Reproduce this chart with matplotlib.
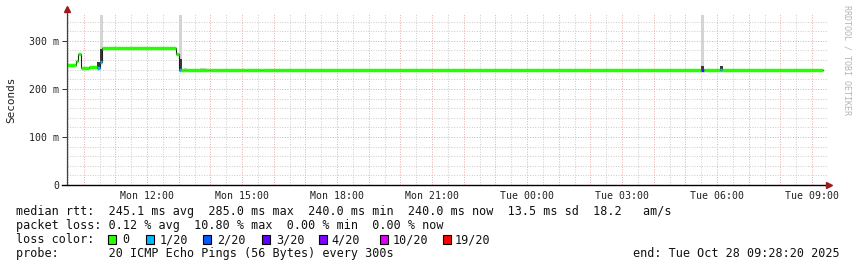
import matplotlib
matplotlib.use("Agg")
import matplotlib.pyplot as plt
import matplotlib.dates as mdates
from matplotlib.patches import Rectangle
import numpy as np
import pandas as pd


# --- data ---
# median rtt steps (start of each 5 min step), ms, lost pings out of 20
med_start = ["2025-10-27 09:25", "2025-10-27 09:45", "2025-10-27 09:50", "2025-10-27 09:55",
             "2025-10-27 10:10", "2025-10-27 10:25", "2025-10-27 10:30", "2025-10-27 10:35",
             "2025-10-27 12:55", "2025-10-27 13:00", "2025-10-27 13:05", "2025-10-27 13:10",
             "2025-10-27 13:15", "2025-10-27 13:55", "2025-10-27 14:00", "2025-10-27 14:15",
             "2025-10-27 15:10", "2025-10-27 15:35", "2025-10-27 15:40", "2025-10-27 16:00",
             "2025-10-27 16:20", "2025-10-28 05:30", "2025-10-28 05:35", "2025-10-28 06:05",
             "2025-10-28 06:10"]
med_ms = [249, 258, 273, 243, 245, 243, 256, 285, 273, 240, 240, 239, 240, 239, 240, 239,
          240, 239, 240, 239, 240, 240, 240, 240, 240]
med_loss = [0, 0, 0, 0, 0, 1, 1, 0, 0, 1, 0, 0, 0, 0, 0, 0, 0, 0, 0, 0, 0, 3, 0, 1, 0]
data_end = "2025-10-28 09:20"

# smoke (spread of the 20 pings), one 5 min bar each
smoke_start = ["2025-10-27 10:25", "2025-10-27 10:30", "2025-10-27 10:30", "2025-10-27 13:00",
               "2025-10-27 13:00", "2025-10-27 13:10", "2025-10-27 13:40", "2025-10-27 13:45",
               "2025-10-28 05:30", "2025-10-28 05:30", "2025-10-28 06:05"]
smoke_lo = [243, 256, 283, 240, 262, 239, 240, 240, 240, 248, 240]
smoke_hi = [255, 283, 354, 262, 354, 243, 243, 243, 248, 354, 248]
smoke_dense = [1, 1, 0, 1, 0, 0, 0, 0, 1, 0, 1]

loss_levels = [0, 1, 2, 3, 4, 10, 19]
loss_labels = ["0", "1/20", "2/20", "3/20", "4/20", "10/20", "19/20"]
loss_colors = ["#26ff00", "#00b8ff", "#0059ff", "#5e00ff", "#7e00ff", "#dd00ff", "#ff0000"]

legend_lines = [
    "median rtt:  245.1 ms avg  285.0 ms max  240.0 ms min  240.0 ms now  13.5 ms sd  18.2   am/s",
    "packet loss: 0.12 % avg  10.80 % max  0.00 % min  0.00 % now",
    "loss color:",
    "probe:       20 ICMP Echo Pings (56 Bytes) every 300s",
]
end_text = "end: Tue Oct 28 09:28:20 2025"

W, H = 857, 267
MONO = "DejaVu Sans Mono"


def fx(px):
    return px / W


def fy(py):
    return 1 - py / H


def loss_color(n):
    c = loss_colors[0]
    for lvl, col in zip(loss_levels, loss_colors):
        if n >= lvl:
            c = col
    return c


def main():
    fig = plt.figure(figsize=(W / 100, H / 100), dpi=100)
    fig.patch.set_facecolor("white")
    ax = fig.add_axes([fx(67), fy(185), 760 / W, 172 / H])

    t0 = mdates.date2num(pd.Timestamp("2025-10-27 09:28:20"))
    t1 = mdates.date2num(pd.Timestamp("2025-10-28 09:28:20"))
    ax.set_xlim(t0, t1)
    ax.set_ylim(0, 0.358)

    # grid: red every hour / 100 ms, grey every half hour / 20 ms
    for t in pd.date_range("2025-10-27 09:30", "2025-10-28 09:28", freq="30min"):
        col = "#e6a8a8" if t.minute == 0 else "#cbcbcb"
        ax.axvline(mdates.date2num(t), color=col, lw=0.7, ls=(0, (1, 1.6)), zorder=0)
    for v in range(20, 358, 20):
        col = "#e6a8a8" if v % 100 == 0 else "#cbcbcb"
        ax.axhline(v / 1000, color=col, lw=0.7, ls=(0, (1, 1.6)), zorder=0)

    # smoke
    sx = mdates.date2num(pd.to_datetime(smoke_start))
    lo = np.array(smoke_lo) / 1000
    hi = np.array(smoke_hi) / 1000
    shade = ["#383838" if d else "#d4d4d4" for d in smoke_dense]
    ax.bar(sx, hi - lo, bottom=lo, width=6 / 1440, align="edge", color=shade,
           linewidth=0, zorder=2)

    # median
    mx = mdates.date2num(pd.to_datetime(med_start + [data_end]))
    my = np.array(med_ms + [med_ms[-1]]) / 1000
    ax.step(mx, my, where="post", color="#202020", lw=0.8, zorder=3)
    ax.hlines(np.array(med_ms) / 1000, mx[:-1], mx[1:],
              colors=[loss_color(n) for n in med_loss], lw=2.5, zorder=4,
              capstyle="butt")

    # axes look
    for s in ax.spines.values():
        s.set_visible(False)
    ax.plot([0, 0], [0, 1.02], transform=ax.transAxes, color="#404040", lw=0.9,
            clip_on=False, zorder=5)
    ax.plot([-0.007, 1.0], [0, 0], transform=ax.transAxes, color="black", lw=1.0,
            clip_on=False, zorder=5)
    ax.plot(0, 1.022, marker="^", ms=4.5, color="#9b1c1c", transform=ax.transAxes,
            clip_on=False, zorder=6)
    ax.plot(1.003, 0, marker=">", ms=4.5, color="#9b1c1c", transform=ax.transAxes,
            clip_on=False, zorder=6)

    ax.set_yticks([0, 0.1, 0.2, 0.3])
    ax.yaxis.set_major_formatter(lambda v, p: f"{v * 1000:.0f} m" if v else "0")
    ax.xaxis.set_major_locator(mdates.HourLocator(byhour=range(0, 24, 3)))
    ax.xaxis.set_major_formatter(mdates.DateFormatter("%a %H:%M"))
    ax.tick_params(axis="y", length=3.6, width=0.7, color="#303030", pad=2.2,
                   labelsize=7.1, labelcolor="#202020")
    ax.tick_params(axis="x", length=0, pad=4.0, labelsize=7.1, labelcolor="#202020")
    for lab in ax.get_xticklabels() + ax.get_yticklabels():
        lab.set_family(MONO)

    fig.text(fx(11), fy(100), "Seconds", rotation=90, ha="center", va="center",
             family=MONO, size=7.9, color="#202020")
    fig.text(fx(847), fy(5), "RRDTOOL / TOBI OETIKER", rotation=270, ha="center",
             va="top", family=MONO, size=6, color="#b4b4b4")

    # legend block
    base = [215.5, 229.5, 243.3, 257.3]
    for line, y in zip(legend_lines, base):
        fig.text(fx(16.5), fy(y), line, family=MONO, size=8.47, va="baseline", color="#111111")
    fig.text(fx(840), fy(base[3]), end_text, family=MONO, size=8.47, va="baseline",
             ha="right", color="#111111")

    swatch_x = [108, 146, 203, 262, 319, 380, 443]
    label_x = [122, 160, 217, 276, 331, 393, 455]
    for bx, lxp, lab, col in zip(swatch_x, label_x, loss_labels, loss_colors):
        fig.add_artist(Rectangle((fx(bx), fy(244)), 8 / W, 9 / H, transform=fig.transFigure,
                                 facecolor=col, edgecolor="black", lw=0.8))
        fig.text(fx(lxp), fy(base[2]), lab, family=MONO, size=8.47, va="baseline",
                 color="#111111")

    fig.savefig("out.png", dpi=100, facecolor="white")


if __name__ == "__main__":
    main()
